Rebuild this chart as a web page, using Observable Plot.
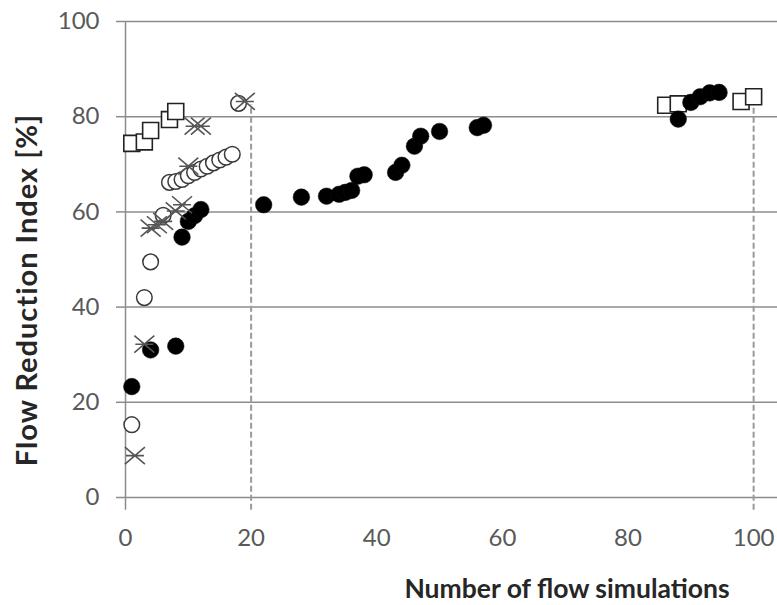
<!DOCTYPE html>
<html>
<head>
<meta charset="utf-8">
<script src="https://cdn.jsdelivr.net/npm/d3@7"></script>
<script src="https://cdn.jsdelivr.net/npm/@observablehq/plot@0.6"></script>
<style>
  html, body { margin: 0; padding: 0; background: #fff; }
  #chart svg { display: block; }
</style>
</head>
<body>
<div id="chart"></div>
<script>
// ---- data ----
const squareX = [1, 3, 4, 7, 8, 86, 88, 98, 100];
const squareY = [74.4, 74.7, 77.1, 79.4, 81.1, 82.4, 82.7, 83.2, 84.2];

const openX = [1, 3, 4, 6, 7, 8, 9, 10, 11, 12, 13, 14, 15, 16, 17, 18];
const openY = [15.3, 42, 49.5, 59.3, 66.2, 66.4, 66.8, 67.6, 68.3, 69, 69.6, 70.3, 70.9, 71.5, 72.1, 82.8];

const filledX = [1, 4, 8, 9, 10, 11, 12, 22, 28, 32, 34, 35, 36, 37, 38, 43, 44, 46, 47, 50, 56, 57, 88, 90, 91.5, 93, 94.5];
const filledY = [23.3, 31, 31.8, 54.7, 58, 59.2, 60.5, 61.5, 63.1, 63.3, 63.7, 64.1, 64.5, 67.5, 67.8, 68.3, 69.8, 73.8, 75.9, 76.9, 77.7, 78.2, 79.5, 83, 84.2, 85, 85.1];

const starX = [1.5, 3, 4, 5, 6, 8, 9, 10, 11, 12, 19];
const starY = [8.8, 32.2, 56.6, 57.3, 58, 60.2, 61.5, 69.6, 78, 78, 83.2];

const xTicks = [0, 20, 40, 60, 80, 100];
const yTicks = [0, 20, 40, 60, 80, 100];
const dropX = [20, 100];           // dashed reference lines
const dropTop = 82.5;              // upper end of dashed lines
const axisBottom = -2.7;           // vertical axis runs slightly below 0
const xTitle = "Number of flow simulations";
const yTitle = "Flow Reduction Index [%]";

// ---- build tables ----
const squares = squareX.map((x, i) => ({x, y: squareY[i]}));
const opens = openX.map((x, i) => ({x, y: openY[i]}));
const filled = filledX.map((x, i) => ({x, y: filledY[i]}));
const stars = starX.map((x, i) => ({x, y: starY[i]}));
const drops = dropX.map(x => ({x, y1: axisBottom, y2: dropTop}));

// custom "star" marker: X with a horizontal bar
const starSymbol = {
  draw(context, size) {
    const r = Math.sqrt(size / Math.PI);
    context.moveTo(-r, -r * 0.85); context.lineTo(r, r * 0.85);
    context.moveTo(-r, r * 0.85); context.lineTo(r, -r * 0.85);
    context.moveTo(-r * 0.9, 0); context.lineTo(r * 0.9, 0);
  }
};

const gridColor = "#8c8c8c";
const font = "Lato, 'Open Sans', sans-serif";

const chart = Plot.plot({
  width: 777,
  height: 605,
  marginLeft: 125,
  marginRight: 0,
  marginTop: 21,
  marginBottom: 108,
  style: {fontFamily: font, background: "#fff"},
  x: {domain: [0, 103.8]},
  y: {domain: [0, 100]},
  marks: [
    Plot.gridY(yTicks, {stroke: gridColor, strokeOpacity: 1, strokeWidth: 1.5}),
    Plot.axisY(yTicks, {tickSize: 9, tickPadding: 17, stroke: gridColor, strokeWidth: 1.5,
      fill: "#595959", fontSize: 24, label: null}),
    Plot.axisX(xTicks, {tickSize: 0, tickPadding: 31, fill: "#595959", fontSize: 24, label: null}),
    Plot.ruleX([0], {y1: axisBottom, y2: 100, stroke: gridColor, strokeWidth: 1.5}),
    Plot.ruleX(drops, {x: "x", y1: "y1", y2: "y2", stroke: "#9a9a9a", strokeWidth: 2, strokeDasharray: "6,3"}),
    Plot.dot(squares, {x: "x", y: "y", symbol: "square", r: 9, fill: "#fff", stroke: "#222", strokeWidth: 1.6}),
    Plot.dot(opens, {x: "x", y: "y", r: 7.8, fill: "#fff", stroke: "#3a3a3a", strokeWidth: 1.5}),
    Plot.dot(filled, {x: "x", y: "y", r: 8.3, fill: "#000", stroke: "#111", strokeWidth: 0.5}),
    Plot.dot(stars, {x: "x", y: "y", symbol: starSymbol, r: 10, fill: "none", stroke: "#555", strokeWidth: 1.6})
  ]
});

const svg = d3.select(chart);
svg.append("text")
  .attr("x", 567).attr("y", 598)
  .attr("text-anchor", "middle")
  .attr("font-family", font)
  .attr("font-weight", "bold")
  .attr("font-size", 26.5)
  .attr("fill", "#262626")
  .text(xTitle);
svg.append("text")
  .attr("transform", "translate(37,290) rotate(-90)")
  .attr("text-anchor", "middle")
  .attr("font-family", font)
  .attr("font-weight", "bold")
  .attr("font-size", 29)
  .attr("letter-spacing", 1)
  .attr("fill", "#262626")
  .text(yTitle);

document.getElementById("chart").append(chart);
</script>
</body>
</html>
